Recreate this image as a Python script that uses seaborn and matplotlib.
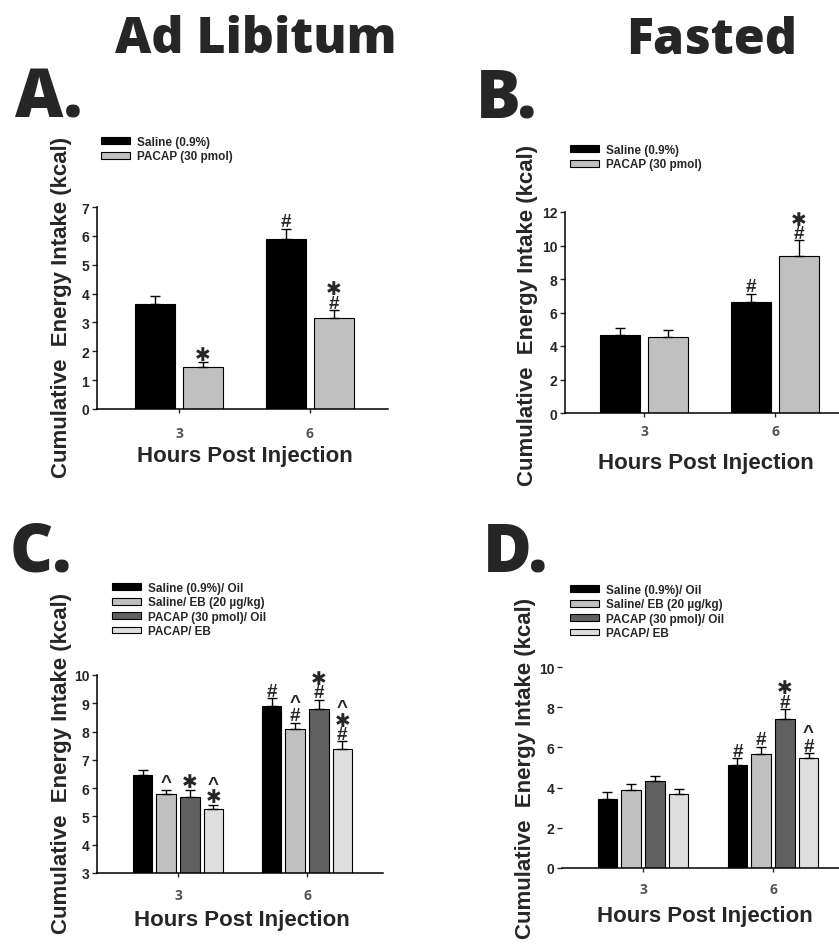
import numpy as np
import pandas as pd
import matplotlib
matplotlib.use("Agg")
import matplotlib.pyplot as plt
import seaborn as sns

# ---------------- data (means and upper SEM) ----------------
hours = ["3", "6"]

groups_ab = ["Saline (0.9%)", "PACAP (30 pmol)"]
colors_ab = ["#000000", "#c0c0c0"]

a_saline = [3.65, 5.90]
a_saline_sem = [0.27, 0.35]
a_pacap = [1.45, 3.15]
a_pacap_sem = [0.17, 0.27]
a_marks = [["", "#"], ["*", "*#"]]

b_saline = [4.65, 6.60]
b_saline_sem = [0.40, 0.50]
b_pacap = [4.55, 9.35]
b_pacap_sem = [0.40, 0.95]
b_marks = [["", "#"], ["", "*#"]]

groups_cd = ["Saline (0.9%)/ Oil", "Saline/ EB (20 \u00b5g/kg)",
             "PACAP (30 pmol)/ Oil", "PACAP/ EB"]
colors_cd = ["#000000", "#c0c0c0", "#606060", "#dedede"]

c_sal_oil = [6.48, 8.92]
c_sal_oil_sem = [0.17, 0.26]
c_sal_eb = [5.80, 8.10]
c_sal_eb_sem = [0.15, 0.22]
c_pac_oil = [5.67, 8.80]
c_pac_oil_sem = [0.28, 0.32]
c_pac_eb = [5.28, 7.40]
c_pac_eb_sem = [0.14, 0.25]
c_marks = [["", "#"], ["^", "^#"], ["*", "*#"], ["^*", "^*#"]]

d_sal_oil = [3.45, 5.10]
d_sal_oil_sem = [0.35, 0.35]
d_sal_eb = [3.88, 5.65]
d_sal_eb_sem = [0.32, 0.37]
d_pac_oil = [4.35, 7.40]
d_pac_oil_sem = [0.25, 0.50]
d_pac_eb = [3.68, 5.45]
d_pac_eb_sem = [0.24, 0.25]
d_marks = [["", "#"], ["", "#"], ["", "*#"], ["", "^#"]]

YLABEL = "Cumulative  Energy Intake (kcal)"
XLABEL = "Hours Post Injection"

# ---------------- style ----------------
sns.set_style("white")
plt.rcParams["font.family"] = ["Liberation Sans", "DejaVu Sans"]
W, H = 839, 945
fig = plt.figure(figsize=(W / 100, H / 100), dpi=100)


def long_df(groups, means):
    rows = []
    for g, vals in zip(groups, means):
        for h, v in zip(hours, vals):
            rows.append({"hours": h, "group": g, "kcal": v})
    return pd.DataFrame(rows)


def stack_text(marks):
    # one symbol per line, top to bottom; heavy asterisk is big and centred
    return "\n".join("\u2731" if c == "*" else c for c in marks)


def panel(box, groups, colors, means, sems, marks, ylim, yticks,
          tick3, tick6, legend_xy, xpad, show_left=True):
    left, right, top, bottom = box
    ax = fig.add_axes([left / W, 1 - bottom / H, (right - left) / W, (bottom - top) / H])
    df = long_df(groups, means)
    gap = 0.18 if len(groups) == 2 else 0.17
    sns.barplot(data=df, x="hours", y="kcal", hue="group", hue_order=groups,
                order=hours, palette=colors, width=0.73, gap=gap,
                edgecolor="black", linewidth=0.8, errorbar=None, ax=ax)
    bars = sorted([p for p in ax.patches if p.get_height() > 0], key=lambda p: p.get_x())

    # bars sorted by x follow hours, then groups
    k = 0
    for hi in range(len(hours)):
        for gi in range(len(groups)):
            p = bars[k]
            k += 1
            xc = p.get_x() + p.get_width() / 2
            m, s = means[gi][hi], sems[gi][hi]
            ax.errorbar([xc], [m], yerr=[[0], [s]], fmt="none", ecolor="black",
                        elinewidth=1.0, capsize=3.5, capthick=1.0, zorder=4)
            if marks[gi][hi]:
                ax.annotate(stack_text(marks[gi][hi]), xy=(xc, m + s), xytext=(0, -1),
                            textcoords="offset points", ha="center", va="bottom",
                            fontsize=13.5, fontweight="bold", linespacing=0.72,
                            family=["Liberation Sans", "DejaVu Sans"],
                            annotation_clip=False)

    ppu = tick6 - tick3
    ax.set_xlim(-(tick3 - left) / ppu, 1 + (right - tick6) / ppu)
    ax.set_ylim(*ylim)
    ax.set_yticks(yticks)
    ax.set_yticklabels([str(t) for t in yticks], fontsize=10, fontweight="bold")
    ax.set_xticks([0, 1])
    ax.set_xticklabels(hours, fontsize=10, fontweight="bold", color="#555555",
                       family="Open Sans")
    ax.tick_params(axis="y", direction="out", length=3.5, width=1, pad=2, left=True)
    ax.tick_params(axis="x", direction="out", length=3, width=1, pad=xpad, bottom=True)
    ax.set_xlabel("")
    ax.set_ylabel("")
    for sp in ["top", "right"]:
        ax.spines[sp].set_visible(False)
    for sp in ["left", "bottom"]:
        ax.spines[sp].set_linewidth(1.1)
        ax.spines[sp].set_color("black")
    if not show_left:
        ax.spines["left"].set_visible(False)

    handles, labels = ax.get_legend_handles_labels()
    ax.get_legend().remove()
    lx, ly = legend_xy
    ax.legend(handles, labels, loc="upper left", bbox_to_anchor=(lx / W, 1 - ly / H),
              bbox_transform=fig.transFigure, frameon=False,
              prop={"size": 8.5, "weight": "bold"}, handlelength=2.45,
              handleheight=0.5, handletextpad=0.6, labelspacing=0.2,
              borderpad=0, borderaxespad=0)
    return ax


panel((97, 388, 208, 410), groups_ab, colors_ab,
      [a_saline, a_pacap], [a_saline_sem, a_pacap_sem], a_marks,
      (0, 7), list(range(0, 8)), 179, 310, (101, 137), 9)
panel((565, 839, 213, 414), groups_ab, colors_ab,
      [b_saline, b_pacap], [b_saline_sem, b_pacap_sem], b_marks,
      (0, 12), list(range(0, 13, 2)), 644, 775, (570, 145), 5)
panel((97, 383, 676, 874), groups_cd, colors_cd,
      [c_sal_oil, c_sal_eb, c_pac_oil, c_pac_eb],
      [c_sal_oil_sem, c_sal_eb_sem, c_pac_oil_sem, c_pac_eb_sem], c_marks,
      (3, 10), list(range(3, 11)), 178, 307, (112, 583), 8)
panel((562, 839, 668, 869), groups_cd, colors_cd,
      [d_sal_oil, d_sal_eb, d_pac_oil, d_pac_eb],
      [d_sal_oil_sem, d_sal_eb_sem, d_pac_oil_sem, d_pac_eb_sem], d_marks,
      (0, 10), list(range(0, 11, 2)), 643, 773, (570, 585), 7, show_left=False)

# ---------------- figure texts ----------------
def ftext(x, y, s, **kw):
    fig.text(x / W, 1 - y / H, s, **kw)


ftext(256, 53, "Ad Libitum", ha="center", va="baseline", fontsize=36,
      fontweight="heavy", family="Open Sans")
ftext(712, 54, "Fasted", ha="center", va="baseline", fontsize=36,
      fontweight="heavy", family="Open Sans")
for x, y, s in [(15, 117, "A."), (476, 117, "B."), (10, 571, "C."), (483, 571, "D.")]:
    ftext(x, y, s, ha="left", va="baseline", fontsize=48, fontweight="heavy",
          family="Open Sans")

for x, y in [(62, 307), (527, 315), (62, 763), (525, 768)]:
    ftext(x, y, YLABEL, rotation=90, ha="center", va="center", fontsize=16,
          fontweight="bold")
for x, y in [(245, 457), (706, 464), (242, 921), (705, 917)]:
    ftext(x, y, XLABEL, ha="center", va="center", fontsize=16, fontweight="bold")

fig.savefig("out.png", dpi=100)
